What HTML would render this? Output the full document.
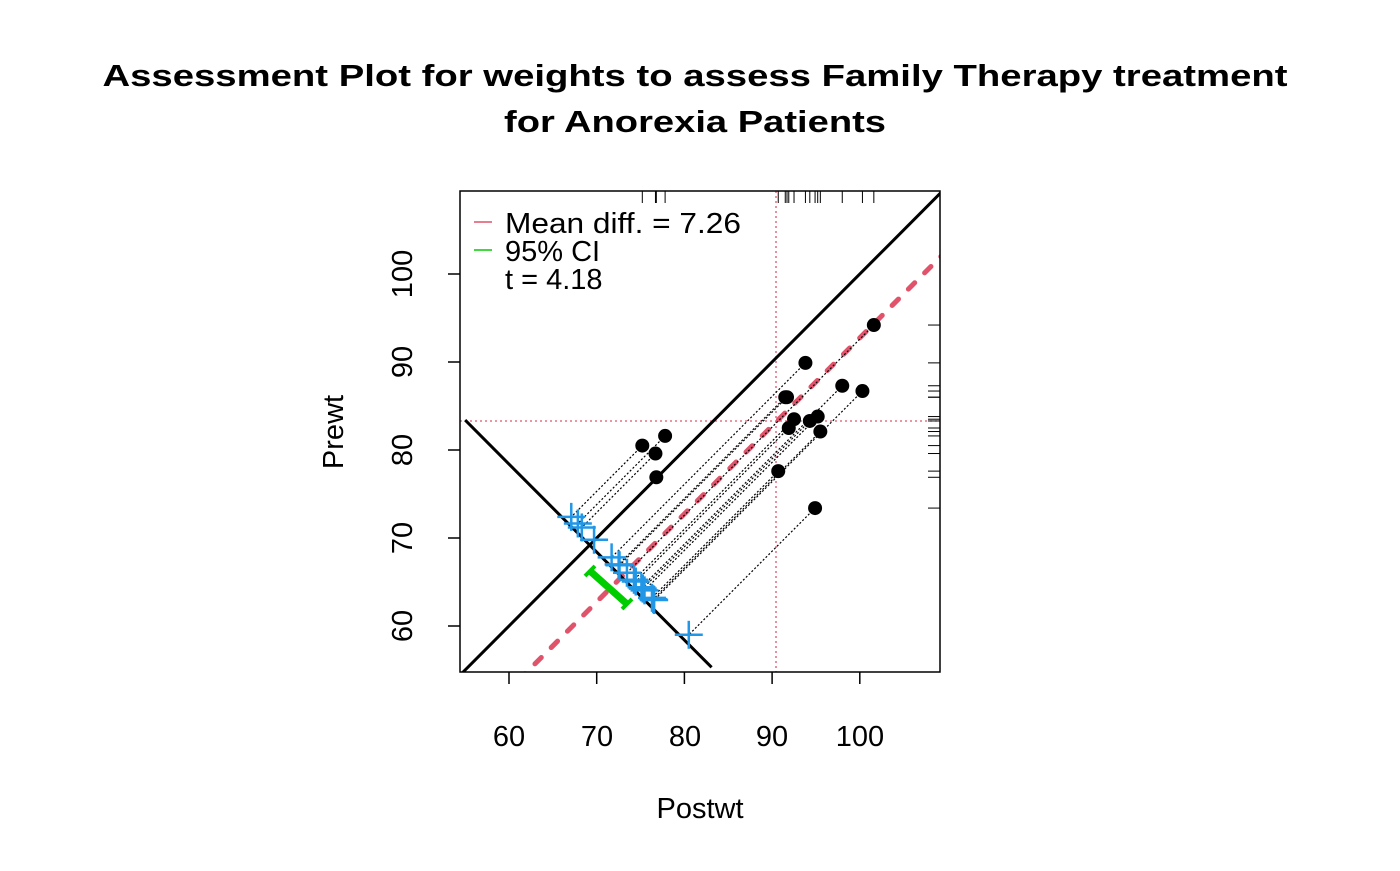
<!DOCTYPE html>
<html><head><meta charset="utf-8"><style>
body{margin:0;background:#fff}
svg text{font-family:"Liberation Sans",Arial,sans-serif}
</style></head><body>
<svg id="s" width="1400" height="866" viewBox="0 0 1400 866" xmlns="http://www.w3.org/2000/svg">
<rect width="1400" height="866" fill="#fff"/>
<text x="695" y="86" font-size="31" font-weight="bold" text-anchor="middle" textLength="1185" lengthAdjust="spacingAndGlyphs">Assessment Plot for weights to assess Family Therapy treatment</text>
<text x="695" y="132" font-size="31" font-weight="bold" text-anchor="middle" textLength="382" lengthAdjust="spacingAndGlyphs">for Anorexia Patients</text>
<text x="700" y="818" font-size="29" text-anchor="middle">Postwt</text>
<text x="0" y="0" font-size="29" text-anchor="middle" transform="translate(343,432) rotate(-90)">Prewt</text>
<g id="g"></g>
<rect x="460" y="191" width="480" height="481" fill="none" stroke="#000" stroke-width="1.5"/>
<g font-size="29">
<text x="505" y="233" textLength="236" lengthAdjust="spacingAndGlyphs">Mean diff. = 7.26</text>
<text x="505" y="261">95% CI</text>
<text x="505" y="289">t = 4.18</text>
</g>
<line x1="474" y1="222" x2="492" y2="222" stroke="#DF536B" stroke-width="1.5"/>
<line x1="474" y1="250" x2="492" y2="250" stroke="#00CD00" stroke-width="1.5"/>
<g font-size="29" text-anchor="middle">
<text x="509" y="746">60</text><text x="597" y="746">70</text><text x="685" y="746">80</text><text x="772" y="746">90</text><text x="860" y="746">100</text>
</g>
<g font-size="29" text-anchor="middle">
<text transform="translate(412,626) rotate(-90)">60</text>
<text transform="translate(412,538) rotate(-90)">70</text>
<text transform="translate(412,450) rotate(-90)">80</text>
<text transform="translate(412,362) rotate(-90)">90</text>
<text transform="translate(412,274) rotate(-90)">100</text>
</g>
</svg>
<script>
var pre=[83.8,83.3,86.0,82.5,86.7,79.6,76.9,94.2,73.4,80.5,81.6,82.1,77.6,83.5,89.9,86.0,87.3];
var post=[95.2,94.3,91.5,91.9,100.3,76.7,76.8,101.6,94.9,75.2,77.8,95.5,90.7,92.5,93.8,91.7,98.0];
function X(v){return 509+(v-60)*8.77}
function Y(v){return 626-(v-60)*8.8}
var h='<defs><clipPath id="c"><rect x="460" y="191" width="480" height="481"/></clipPath></defs>';
function L(x1,y1,x2,y2,st){h+='<line x1="'+x1+'" y1="'+y1+'" x2="'+x2+'" y2="'+y2+'" '+st+'/>';}
[60,70,80,90,100].forEach(function(v){L(X(v),672,X(v),684,'stroke="#000" stroke-width="1.5"');L(448,Y(v),460,Y(v),'stroke="#000" stroke-width="1.5"');});
h+='<g clip-path="url(#c)">';
L(776,191,776,672,'stroke="#DF536B" stroke-width="1.3" stroke-dasharray="2,3"');
L(460,421,940,421,'stroke="#DF536B" stroke-width="1.3" stroke-dasharray="2,3"');
L(X(50),Y(50),X(115),Y(115),'stroke="#000" stroke-width="3"');
L(X(50),Y(42.74),X(115),Y(107.74),'stroke="#DF536B" stroke-width="5" stroke-linecap="round" stroke-dasharray="9,14"');
var S=139.5,SL=138.4;
L(X(55),Y(SL-55),X(83.1),Y(SL-83.1),'stroke="#000" stroke-width="3"');
for(var i=0;i<17;i++){var d=post[i]-pre[i];var cx=(S+d)/2,cy=(S-d)/2;
L(X(post[i]),Y(pre[i]),X(cx),Y(cy),'stroke="#000" stroke-width="1.2" stroke-dasharray="2,2"');}
var x1=590,y1=571,x2=627,y2=604;
L(x1,y1,x2,y2,'stroke="#00CD00" stroke-width="7"');
L(x1-5,y1+5,x1+5,y1-5,'stroke="#00CD00" stroke-width="4"');
L(x2-5,y2+5,x2+5,y2-5,'stroke="#00CD00" stroke-width="4"');
for(var i=0;i<17;i++){var d=post[i]-pre[i];var px=X((S+d)/2),py=Y((S-d)/2);
L(px-14,py,px+14,py,'stroke="#2297E6" stroke-width="2.5"');L(px,py-14,px,py+14,'stroke="#2297E6" stroke-width="2.5"');
h+='<circle cx="'+X(post[i])+'" cy="'+Y(pre[i])+'" r="7" fill="#000"/>';}
h+='</g>';
for(var i=0;i<17;i++){L(X(post[i]),191,X(post[i]),203,'stroke="#000" stroke-width="1"');L(928,Y(pre[i]),940,Y(pre[i]),'stroke="#000" stroke-width="1"');}
document.getElementById('g').innerHTML=h;
</script>
</body></html>
